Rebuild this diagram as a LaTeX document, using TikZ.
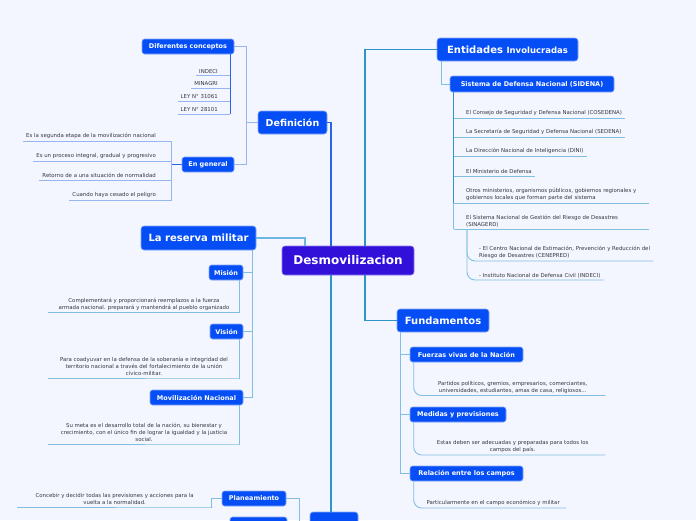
\documentclass[tikz,border=0pt]{standalone}
\usepackage{fontspec}
\setmainfont{DejaVu Sans}
\usetikzlibrary{calc,positioning,backgrounds}
\definecolor{dmbg}{RGB}{243,246,254}
\definecolor{dmblue}{RGB}{5,78,245}
\definecolor{dmpurple}{RGB}{50,16,218}
\definecolor{dmteal}{RGB}{45,148,200}
\definecolor{dmdef}{RGB}{40,100,232}
\definecolor{dmlight}{RGB}{128,190,228}
\definecolor{dmperi}{RGB}{150,182,242}
\definecolor{dmtext}{RGB}{55,55,65}
\tikzset{
  dmcentral/.style={rectangle, rounded corners=3pt, fill=dmpurple, draw=dmpurple!55!white,
                    line width=0.6pt, text=white, inner sep=0pt,
                    minimum width=132, minimum height=29,
                    font=\bfseries\fontsize{12}{14}\selectfont},
  dmmain/.style={rectangle, rounded corners=3pt, fill=dmblue, draw=dmblue!50!white,
                 line width=0.6pt, text=white, inner sep=0pt, minimum height=23,
                 font=\bfseries\fontsize{10}{12}\selectfont},
  dmsub/.style={dmmain, minimum height=15, rounded corners=2.5pt,
                font=\bfseries\fontsize{6.5}{8}\selectfont},
  dmleaf/.style={font=\fontsize{5.4}{7}\selectfont, text=dmtext, inner xsep=3pt, inner ysep=2pt},
  dmtrunk/.style={line width=1.4pt, dmteal},
  dmdefl/.style={line width=1.4pt, dmdef},
  dmbranch/.style={line width=0.9pt, dmlight},
  dmperil/.style={line width=0.9pt, dmperi},
  dmdark/.style={line width=1.1pt, dmdef},
}
\begin{document}
\begin{tikzpicture}[x=1pt, y=-1pt]
\fill[dmbg] (0,0) rectangle (696,520);
\useasboundingbox (0,0) rectangle (696,520);

% centre
\node[dmcentral] (center) at (348,260.5) {Desmovilizacion};

% Definicion
\node[dmmain, minimum width=69, font=\bfseries\fontsize{9.5}{12}\selectfont] (defin) at (292.5,122.5) {Definición};
\node[dmsub, minimum width=92] (difc) at (188,46.5) {Diferentes conceptos};
\node[dmsub, minimum width=52] (engen) at (208,164.5) {En general};
\node[dmleaf, anchor=south east] (i1) at (221,75.5) {INDECI};
\node[dmleaf, anchor=south east] (i2) at (221,88) {MINAGRI};
\node[dmleaf, anchor=south east] (i3) at (221,101) {LEY N° 31061};
\node[dmleaf, anchor=south east] (i4) at (221,114) {LEY N° 28101};
\node[dmleaf, anchor=south east] (g1) at (159,141) {Es la segunda etapa de la movilización nacional};
\node[dmleaf, anchor=south east] (g2) at (159,161) {Es un proceso integral, gradual y progresivo};
\node[dmleaf, anchor=south east] (g3) at (159,180) {Retorno de a una situación de normalidad};
\node[dmleaf, anchor=south east] (g4) at (159,200) {Cuando haya cesado el peligro};

\draw[dmdefl] (defin.east) -| ([xshift=-17]center.north);
\draw[dmperil] (defin.west) -- ++(-11,0) coordinate (dftr);
\draw[dmperil] (dftr) |- (difc.east);
\draw[dmperil] (dftr) |- (engen.east);
\coordinate (dctr) at ([xshift=-4]difc.south east);
\draw[dmdark] (dctr) -- (dctr |- i4.south);
\draw[dmperil] (i1.south west) -- (i1.south west -| dctr);
\draw[dmperil] (i2.south west) -- (i2.south west -| dctr);
\draw[dmperil] (i3.south west) -- (i3.south west -| dctr);
\draw[dmperil] (i4.south west) -- (i4.south west -| dctr);
\draw[dmdark] (engen.west) -- ++(-10,0) coordinate (egtr);
\draw[dmperil] (egtr |- g1.south) -- (egtr |- g4.south);
\draw[dmperil] (g1.south west) -- (g1.south west -| egtr);
\draw[dmperil] (g2.south west) -- (g2.south west -| egtr);
\draw[dmperil] (g3.south west) -- (g3.south west -| egtr);
\draw[dmperil] (g4.south west) -- (g4.south west -| egtr);

% La reserva militar
\node[dmmain, minimum width=115, minimum height=24] (reserva) at (198.5,238) {La reserva militar};
\node[dmsub, minimum width=34] (mision) at (226,272.5) {Misión};
\node[dmsub, minimum width=33] (vision) at (226.5,331.5) {Visión};
\node[dmsub, minimum width=93] (movil) at (196.5,397.5) {Movilización Nacional};
\node[dmleaf, align=center, minimum width=192, anchor=south] (mtxt) at (144,312.5)
  {Complementará y proporcionará reemplazos a la fuerza\\armada nacional. preparará y mantendrá al pueblo organizado};
\node[dmleaf, align=center, minimum width=192, anchor=south] (vtxt) at (144,378)
  {Para coadyuvar en la defensa de la soberanía e integridad del\\territorio nacional a través del fortalecimiento de la unión\\cívico-militar.};
\node[dmleaf, align=center, minimum width=192, anchor=south] (ntxt) at (144,444)
  {Su meta es el desarrollo total de la nación, su bienestar y\\crecimiento, con el único fin de lograr la igualdad y la justicia\\social.};

\draw[dmtrunk, dmlight!80!dmteal] (reserva.east) -| ([xshift=-43]center.north);
\coordinate (rstr) at ([xshift=-4]reserva.south east);
\draw[dmbranch] (rstr) |- (movil.east);
\draw[dmbranch] (rstr |- mision.east) -- (mision.east);
\draw[dmbranch] (rstr |- vision.east) -- (vision.east);
\draw[dmbranch] ([xshift=-4]mision.south east) |- (mtxt.south east) -- (mtxt.south west);
\draw[dmbranch] ([xshift=-4]vision.south east) |- (vtxt.south east) -- (vtxt.south west);
\draw[dmbranch] ([xshift=-4]movil.south east) |- (ntxt.south east) -- (ntxt.south west);

% parte inferior
\node[dmsub, minimum width=64] (plan) at (254,498.5) {Planeamiento};
\node[dmsub, minimum width=57, minimum height=16] (plan2) at (258.5,525) {};
\node[dmmain, minimum width=48, minimum height=28] (bot) at (334,526) {};
\node[dmleaf, align=center, minimum width=195, anchor=south west] (ptxt) at (17,507)
  {Concebir y decidir todas las previsiones y acciones para la\\vuelta a la normalidad.};
\coordinate (ptrunk) at (299,530);
\draw[dmbranch] (plan.west) -- ++(-10,0) |- (ptxt.south east) -- (ptxt.south west);
\draw[dmbranch] (plan.east) -| (ptrunk);
\draw[dmtrunk] ([xshift=-17]center.south) -- ([xshift=-17]center.south |- bot.north);

% Entidades Involucradas
\node[dmmain, minimum width=141] (entid) at (507.5,49.5) {Entidades {\fontsize{8.5}{10}\selectfont Involucradas}};
\node[dmsub, minimum width=164, minimum height=16] (sidena) at (532,84) {Sistema de Defensa Nacional (SIDENA)};
\node[dmleaf, anchor=south west] (e1) at (463,118) {El Consejo de Seguridad y Defensa Nacional (COSEDENA)};
\node[dmleaf, anchor=south west] (e2) at (463,137) {La Secretaría de Seguridad y Defensa Nacional (SEDENA)};
\node[dmleaf, anchor=south west] (e3) at (463,156) {La Dirección Nacional de Inteligencia (DINI)};
\node[dmleaf, anchor=south west] (e4) at (463,176) {El Ministerio de Defensa};
\node[dmleaf, anchor=south west, align=left, text width=180] (e5) at (463,203)
  {Otros ministerios, organismos públicos, gobiernos regionales y\\gobiernos locales que forman parte del sistema};
\node[dmleaf, anchor=south west, align=left, text width=180] (e6) at (463,229)
  {El Sistema Nacional de Gestión del Riesgo de Desastres\\(SINAGERD)};
\node[dmleaf, anchor=south west, align=left] (c1) at (476,261)
  {- El Centro Nacional de Estimación, Prevención y Reducción del\\Riesgo de Desastres (CENEPRED)};
\node[dmleaf, anchor=south west] (c2) at (476,280) {- Instituto Nacional de Defensa Civil (INDECI)};

\draw[dmtrunk] ([xshift=17]center.north) |- (entid.west);
\draw[dmbranch] ([xshift=5]entid.south west) |- (sidena.west);
\coordinate (sdtr) at ([xshift=4]sidena.south west);
\draw[dmtrunk, line width=1.1pt] (sdtr) -- (sdtr |- e5.south);
\draw[dmbranch] (sdtr |- e5.south) -- (sdtr |- e6.south);
\draw[dmbranch] (e1.south east) -- (e1.south east -| sdtr);
\draw[dmbranch] (e2.south east) -- (e2.south east -| sdtr);
\draw[dmbranch] (e3.south east) -- (e3.south east -| sdtr);
\draw[dmbranch] (e4.south east) -- (e4.south east -| sdtr);
\draw[dmbranch] (e5.south east) -- (e5.south east -| sdtr);
\draw[dmbranch] (e6.south east) -- (e6.south east -| sdtr);
\draw[dmbranch, rounded corners=8pt] ([xshift=4]e6.south west) |- (c1.south east);
\draw[dmbranch, rounded corners=8pt] ([xshift=4]e6.south west) |- (c2.south east);

% Fundamentos
\node[dmmain, minimum width=92] (fund) at (443,320.5) {Fundamentos};
\node[dmsub, minimum width=113] (fuerz) at (466.5,354.5) {Fuerzas vivas de la Nación};
\node[dmsub, minimum width=96] (medid) at (458,414.5) {Medidas y previsiones};
\node[dmsub, minimum width=113] (relac) at (466.5,473.5) {Relación entre los campos};
\node[dmleaf, align=center, minimum width=185, anchor=south west] (f1) at (420,395.5)
  {Partidos políticos, gremios, empresarios, comerciantes,\\universidades, estudiantes, amas de casa, religiosos...};
\node[dmleaf, align=center, minimum width=185, anchor=south west] (f2) at (420,455)
  {Estas deben ser adecuadas y preparadas para todos los\\campos del país.};
\node[dmleaf, align=center, minimum width=146, anchor=south west] (f3) at (420,508)
  {Particularmente en el campo económico y militar};

\draw[dmtrunk] ([xshift=17]center.south) |- (fund.west);
\coordinate (fdtr) at ([xshift=4]fund.south west);
\draw[dmbranch] (fdtr) |- (relac.west);
\draw[dmbranch] (fdtr |- fuerz.west) -- (fuerz.west);
\draw[dmbranch] (fdtr |- medid.west) -- (medid.west);
\draw[dmbranch, rounded corners=8pt] ([xshift=4]fuerz.south west) |- (f1.south east);
\draw[dmbranch, rounded corners=8pt] ([xshift=4]medid.south west) |- (f2.south east);
\draw[dmbranch, rounded corners=8pt] ([xshift=4]relac.south west) |- (f3.south east);
\end{tikzpicture}
\end{document}
